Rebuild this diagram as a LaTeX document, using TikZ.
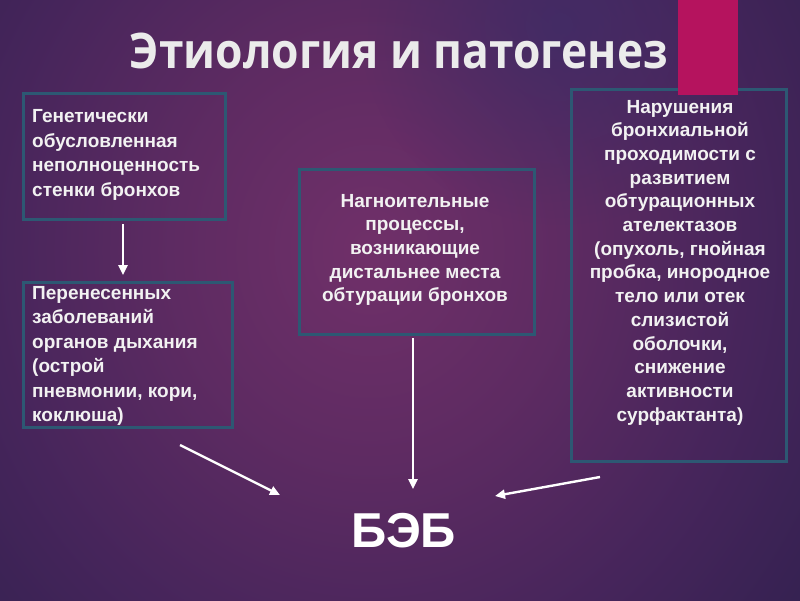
\documentclass[tikz,border=0pt]{standalone}
\usepackage{fontspec}
\setmainfont{Liberation Sans}
\newfontfamily\titlefont{Open Sans}
\usetikzlibrary{arrows.meta,fadings}
\definecolor{bgA}{HTML}{703069}
\definecolor{bgB}{HTML}{5E2B62}
\definecolor{bgC}{HTML}{46255B}
\definecolor{bgD}{HTML}{2A1F4B}
\definecolor{blobL}{HTML}{3C245A}
\definecolor{blobT}{HTML}{3F2C66}
\definecolor{boxc}{HTML}{2D5873}
\definecolor{txtc}{HTML}{F2F2F2}
\definecolor{titlec}{HTML}{EBEBEB}
\definecolor{pinkc}{HTML}{B5135E}
\pgfdeclareradialshading{bgshade}{\pgfpoint{0bp}{0bp}}{color(0bp)=(bgA); color(6bp)=(bgB); color(12bp)=(bgC); color(20bp)=(bgD); color(50bp)=(bgD)}
\tikzfading[name=softc, inner color=transparent!0, outer color=transparent!100]
\begin{document}
\begin{tikzpicture}[x=1pt,y=-1pt,
  box/.style={draw=boxc, line width=2.6pt, anchor=north west, inner sep=0pt},
  txt/.style={text=txtc, inner sep=0pt, font=\fontsize{19}{24.5}\selectfont\bfseries},
  ctxt/.style={txt, align=center, font=\fontsize{19}{23.7}\selectfont\bfseries},
  arr/.style={draw=white, line width=2.4pt, -{Triangle[length=10pt,width=9pt]}}]
\useasboundingbox (0,0) rectangle (800,600);
\clip (0,0) rectangle (800,600);
% background
\fill[bgD] (0,0) rectangle (800,600);
\fill[blobL, path fading=softc] (0,520) circle (320pt);
\shade[shading=bgshade] (370,250) ellipse [x radius=800pt, y radius=880pt];
\fill[blobT, path fading=softc, opacity=0.8] (560,25) circle (200pt);
% title
\node[anchor=base, inner sep=0pt, text=titlec] (title) at (399,68)
  {\resizebox{538pt}{35.5pt}{\titlefont\bfseries Этиология и патогенез}};
% boxes
\node[box, minimum width=202pt, minimum height=126pt] (A) at (22,92) {};
\node[box, minimum width=209pt, minimum height=145pt] (B) at (22,281) {};
\node[box, minimum width=235pt, minimum height=165pt] (C) at (298,168) {};
\node[box, minimum width=215pt, minimum height=372pt] (D) at (570,88) {};
\fill[pinkc] (678,0) rectangle (738,95);
% texts
\node[txt, anchor=west, align=left] (tA) at (32,155)
  {Генетически\\обусловленная\\неполноценность\\стенки бронхов};
\node[txt, anchor=west, align=left] (tB) at (32,356)
  {Перенесенных\\заболеваний\\органов дыхания\\(острой\\пневмонии, кори,\\коклюша)};
\node[ctxt] (tC) at (415,250)
  {Нагноительные\\процессы,\\возникающие\\дистальнее места\\обтурации бронхов};
\node[ctxt] (tD) at (680,262.5)
  {Нарушения\\бронхиальной\\проходимости с\\развитием\\обтурационных\\ателектазов\\(опухоль, гнойная\\пробка, инородное\\тело или отек\\слизистой\\оболочки,\\снижение\\активности\\сурфактанта)};
\node[text=white, inner sep=0pt, font=\fontsize{49}{49}\selectfont\bfseries] (beb) at (404,530.5) {БЭБ};
% arrows
\coordinate (a1) at (123,224);
\coordinate (a2) at (123,275);
\coordinate (l1) at (180,445);
\coordinate (l2) at (280,495);
\coordinate (m1) at (413,338);
\coordinate (m2) at (413,489);
\coordinate (r1) at (600,477);
\coordinate (r2) at (495,496);
\draw[arr] (a1) -- (a2);
\draw[arr] (l1) -- (l2);
\draw[arr] (m1) -- (m2);
\draw[arr] (r1) -- (r2);
\end{tikzpicture}
\end{document}
